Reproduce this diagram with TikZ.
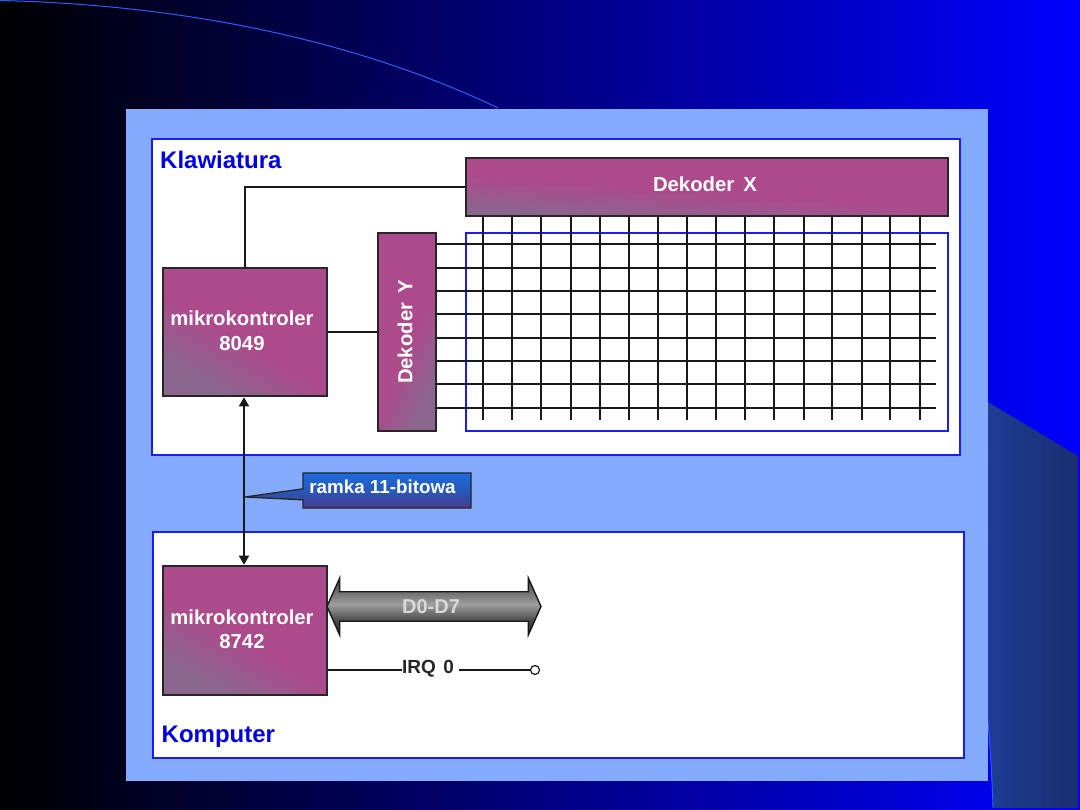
\documentclass[tikz,border=0pt]{standalone}
\usepackage{fontspec}
\usepackage{graphicx}
\setmainfont{Liberation Sans}
\usetikzlibrary{arrows.meta,calc,shapes.arrows,shapes.callouts}

\definecolor{panelblue}{RGB}{133,171,255}
\definecolor{framedblue}{RGB}{28,28,240}
\definecolor{titleblue}{RGB}{0,0,224}
\definecolor{boxmagenta}{RGB}{173,74,140}
\definecolor{boxgrey}{RGB}{138,102,142}
\definecolor{wireblack}{RGB}{25,25,25}
\definecolor{swoosh}{RGB}{45,95,255}
\definecolor{cornerleft}{RGB}{30,60,150}
\definecolor{cornerright}{RGB}{26,46,112}
\definecolor{tagtop}{RGB}{28,108,222}
\definecolor{tagmid}{RGB}{40,88,186}
\definecolor{tagbottom}{RGB}{74,60,140}

\pgfdeclarehorizontalshading{boxshade}{100bp}{
  color(0bp)=(boxgrey); color(27bp)=(boxgrey); color(47bp)=(boxmagenta); color(100bp)=(boxmagenta)}
\pgfdeclareverticalshading{busshade}{100bp}{
  color(0bp)=(black!85); color(25bp)=(black!85); color(38bp)=(black!70); color(52bp)=(black!38); color(62bp)=(black!55); color(75bp)=(black!70); color(100bp)=(black!70)}
\pgfdeclareverticalshading{tagshade}{100bp}{
  color(0bp)=(tagbottom); color(25bp)=(tagbottom); color(50bp)=(tagmid); color(75bp)=(tagtop); color(100bp)=(tagtop)}

% extra depth under a line of text, which lifts it inside its node
\newcommand{\underdepth}[1]{\rule[-#1]{0pt}{#1}}

\tikzset{
  frame/.style={draw=framedblue,line width=1.9pt,fill=white},
  blockbox/.style={draw=black!85,line width=1.6pt,shade,shading=boxshade,inner sep=0pt,
    text=white,align=center,font=\bfseries\fontsize{20.3}{24.5}\selectfont},
  wire/.style={draw=wireblack,line width=1.7pt},
  gridline/.style={draw=wireblack,line width=1.7pt},
  heading/.style={text=titleblue,font=\bfseries\fontsize{24}{26}\selectfont,inner sep=0pt,anchor=base west}
}

\begin{document}
\begin{tikzpicture}[x=1pt,y=-1pt]
  \useasboundingbox (0,0) rectangle (1080,810);

  % slide background
  \shade[left color=black,right color=blue] (0,0) rectangle (1080,810);
  \shade[left color=cornerleft,right color=cornerright]
    (988,402) -- (1078,456) -- (1078,808) -- (993,808)
    .. controls (992,775) and (990,745) .. (988,722) -- cycle;
  \draw[swoosh,line width=0.9pt] (988,722) .. controls (990,745) and (992,775) .. (993,808);
  \draw[swoosh,line width=1pt] (0,0.5) .. controls (190,5) and (360,42) .. (498,108);

  % panel and frames
  \fill[panelblue] (126,109) rectangle (988,781);
  \draw[frame] (152,139) rectangle (960,455);
  \draw[frame] (153,532) rectangle (964,758);
  \draw[draw=framedblue,line width=1.7pt,fill=white] (466,233) rectangle (948,431);

  \node[heading] (klawiatura) at (160,169) {Klawiatura};
  \node[heading] (komputer) at (161.5,742) {Komputer};

  % blocks
  \node[blockbox,minimum width=164pt,minimum height=128pt,shading angle=60] (mkA) at (245,332)
    {mikrokontroler\hspace*{6pt}\\8049\hspace*{6pt}\underdepth{3pt}};
  \node[blockbox,minimum width=164pt,minimum height=129pt,shading angle=60] (mkB) at (245,630.5)
    {mikrokontroler\hspace*{6pt}\\8742\hspace*{6pt}\underdepth{3pt}};
  \node[blockbox,minimum width=482pt,minimum height=58pt,shading angle=86] (dekX) at (707,187)
    {Dekoder\hspace{0.45em}X\hspace*{4pt}\underdepth{6pt}};
  \node[blockbox,minimum width=58pt,minimum height=198pt,shading angle=155] (dekY) at (407,332)
    {\rotatebox{90}{Dekoder\hspace{0.45em}Y}\hspace*{4pt}};

  % keyboard matrix
  \foreach \n/\yy in {1/244,2/268,3/291,4/314,5/338,6/361,7/384,8/408} {
    \coordinate (rowend\n) at (936,\yy);
    \draw[gridline] (dekY.east |- rowend\n) -- (rowend\n);
  }
  \foreach \n/\xx in {1/483,2/512,3/541,4/571,5/600,6/629,7/658,8/687,9/716,10/745,11/774,12/804,13/832,14/862,15/890,16/920} {
    \coordinate (colend\n) at (\xx,420);
    \draw[gridline] (dekX.south -| colend\n) -- (colend\n);
  }

  % connections between blocks
  \draw[wire] (mkA.north) |- (dekX.west);
  \draw[wire] (mkA.east) -- (dekY.west);
  \draw[wire,{Triangle[length=9pt,width=10pt]}-{Triangle[length=9pt,width=10pt]},shorten <=0.5pt,shorten >=0.5pt]
    ([xshift=-1pt]mkA.south) -- ([xshift=-1pt]mkB.north);

  % frame label
  \node[rectangle callout,callout absolute pointer={(245,497)},callout pointer width=11pt,
    draw=black!85,line width=1.3pt,shade,shading=tagshade,minimum width=168pt,minimum height=35pt,inner sep=0pt,
    text=white,font=\bfseries\fontsize{18.8}{20}\selectfont] (ramka) at (387,490.5)
    {ramka 11-bitowa\hspace*{9pt}\underdepth{7pt}};

  % data bus
  \node[double arrow,draw=black!90,line width=1.4pt,shade,shading=busshade,
    minimum height=214pt,minimum width=54pt,inner xsep=0pt,inner ysep=7pt,
    double arrow head extend=13.5pt,double arrow tip angle=132,
    text=black!15,font=\bfseries\fontsize{20}{22}\selectfont] (bus) at (434,606.5) {D0-D7\hspace*{6pt}};

  % interrupt line
  \node[inner sep=0pt,font=\bfseries\fontsize{19}{20}\selectfont,text=black!85] (irq) at (428,669) {IRQ\hspace{0.4em}0};
  \node[circle,draw=black!90,fill=white,line width=1.2pt,inner sep=0pt,minimum size=9pt] (pin) at (535,670) {};
  \draw[wire] (mkB.east |- pin) -- (irq.west |- pin);
  \draw[wire] ([xshift=5pt]irq.east |- pin) -- (pin.west);
\end{tikzpicture}
\end{document}
